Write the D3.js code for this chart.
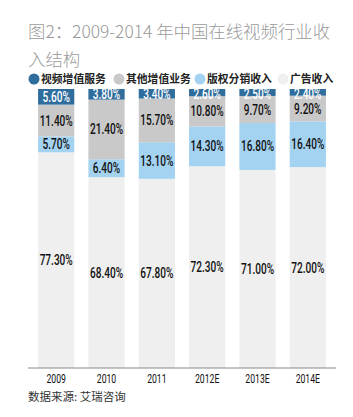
<!DOCTYPE html>
<html>
<head>
<meta charset="utf-8">
<script src="https://cdn.jsdelivr.net/npm/d3@7"></script>
<style>
  body { margin: 0; background: #fff; }
  svg { display: block; }
</style>
</head>
<body>
<script>
// data
const years = ["2009", "2010", "2011", "2012E", "2013E", "2014E"];
const seriesNames = ["视频增值服务", "其他增值业务", "版权分销收入", "广告收入"];
const valueAdded = [5.6, 3.8, 3.4, 2.6, 2.5, 2.4];
const otherAdded = [11.4, 21.4, 15.7, 10.8, 9.7, 9.2];
const copyright = [5.7, 6.4, 13.1, 14.3, 16.8, 16.4];
const advertising = [77.3, 68.4, 67.8, 72.3, 71.0, 72.0];
const colors = ["#2f6d9c", "#c9c9c9", "#a4d3f2", "#efefef"];

var width = 353, height = 417;
var margin = {top: 89, left: 28, right: 17, bottom: 49};
var narrow = "Roboto, 'DejaVu Sans', sans-serif";

var svg = d3.select("body").append("svg")
    .attr("width", width)
    .attr("height", height);

// title
var title = svg.append("text")
    .attr("fill", "#9a9a9a")
    .attr("font-family", "'Noto Sans CJK SC', 'Noto Sans', sans-serif")
    .attr("font-weight", 300)
    .attr("font-size", 17.4);
title.append("tspan").attr("x", 28).attr("y", 38).text("图2：2009-2014 年中国在线视频行业收");
title.append("tspan").attr("x", 28).attr("y", 66).text("入结构");

// legend
var legendX = [34, 119, 200, 283];
var legend = svg.selectAll("g.legend")
    .data(seriesNames)
  .enter().append("g")
    .attr("class", "legend")
    .attr("transform", function(d, i) { return "translate(" + legendX[i] + ",79)"; });
legend.append("circle")
    .attr("r", 5.5)
    .attr("fill", function(d, i) { return colors[i]; });
legend.append("text")
    .attr("x", 7)
    .attr("y", 3.8)
    .attr("font-family", "'Noto Sans CJK SC', sans-serif")
    .attr("font-weight", "bold")
    .attr("font-size", 10.8)
    .attr("fill", "#222")
    .text(function(d) { return d; });

var plotW = width - margin.left - margin.right;
var plotH = height - margin.top - margin.bottom;

var x = d3.scaleBand()
    .domain(years)
    .range([margin.left, margin.left + plotW])
    .paddingInner(0.28)
    .paddingOuter(0.2);

var y = d3.scaleLinear()
    .domain([0, 100])
    .range([margin.top + plotH, margin.top]);

var table = years.map(function(yr, i) {
  return {year: yr, s0: valueAdded[i], s1: otherAdded[i], s2: copyright[i], s3: advertising[i]};
});

// stacked from bottom: advertising, copyright, other, value added
var keys = ["s3", "s2", "s1", "s0"];
var stack = d3.stack().keys(keys)(table);

var layers = svg.selectAll("g.layer")
    .data(stack)
  .enter().append("g")
    .attr("class", "layer")
    .attr("fill", function(d) { return colors[+d.key.slice(1)]; });

layers.selectAll("rect")
    .data(function(d) { return d; })
  .enter().append("rect")
    .attr("x", function(d) { return x(d.data.year); })
    .attr("y", function(d) { return y(d[1]); })
    .attr("width", x.bandwidth())
    .attr("height", function(d) { return y(d[0]) - y(d[1]); });

layers.selectAll("text")
    .data(function(d) { return d.map(function(v) { v.key = d.key; return v; }); })
  .enter().append("text")
    .attr("transform", function(d) {
      var cx = x(d.data.year) + x.bandwidth() / 2;
      var cy = Math.max((y(d[0]) + y(d[1])) / 2 + 5, margin.top + 9.5);
      return "translate(" + cx + "," + cy + ") scale(0.72,1)";
    })
    .attr("text-anchor", "middle")
    .attr("font-family", narrow)
    .attr("font-weight", 500)
    .attr("font-size", 14)
    .attr("fill", function(d) { return d.key == "s0" ? "#fff" : "#111"; })
    .text(function(d) { return (d[1] - d[0]).toFixed(2) + "%"; });

// x axis
var xAxis = d3.axisBottom(x).tickSize(0).tickPadding(6);
var gx = svg.append("g")
    .attr("transform", "translate(0," + (margin.top + plotH) + ")")
    .call(xAxis);
gx.select(".domain").attr("stroke", "#888").attr("d", "M" + margin.left + ",0H" + (margin.left + plotW));
gx.selectAll(".tick text")
    .attr("font-family", narrow)
    .attr("font-size", 12)
    .attr("fill", "#111")
    .attr("text-anchor", "middle")
    .attr("transform", "scale(0.72,1)");

// source
svg.append("text")
    .attr("x", 28)
    .attr("y", 401)
    .attr("font-family", "'Noto Sans CJK SC', sans-serif")
    .attr("font-size", 11.5)
    .attr("fill", "#333")
    .text("数据来源: 艾瑞咨询");
</script>
</body>
</html>
